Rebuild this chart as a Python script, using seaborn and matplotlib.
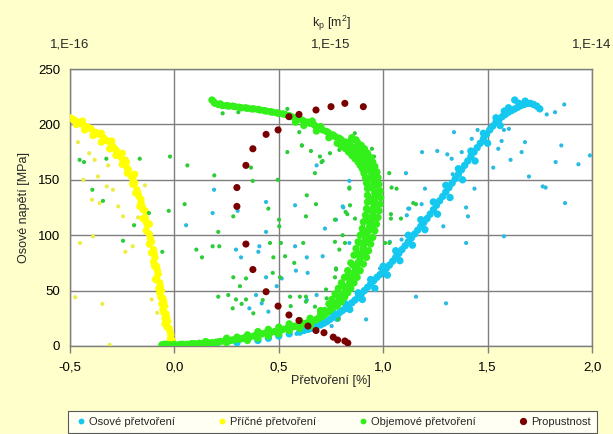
import matplotlib
matplotlib.use("Agg")
import matplotlib.pyplot as plt
from matplotlib.lines import Line2D
import seaborn as sns
import pandas as pd

# ---------------- data ----------------
# Příčné přetvoření (lateral strain) – dense band
yellow_band_x = [-0.50, -0.48, -0.46, -0.44, -0.42, -0.40, -0.38, -0.36, -0.34, -0.32, -0.30, -0.28, -0.265, -0.25,
                 -0.235, -0.22, -0.205, -0.19, -0.18, -0.17, -0.16, -0.15, -0.14, -0.13, -0.12, -0.11, -0.10, -0.093,
                 -0.085, -0.078, -0.07, -0.062, -0.055, -0.047, -0.04, -0.032, -0.025, -0.017, -0.01, -0.005,
                 -0.47, -0.43, -0.39, -0.35, -0.31, -0.28, -0.25, -0.225, -0.20, -0.185, -0.165, -0.15, -0.135, -0.12,
                 -0.11, -0.095, -0.085, -0.075, -0.065, -0.055, -0.045, -0.035, -0.02, -0.12, -0.16, -0.23, -0.07,
                 -0.09, -0.05,
                 -0.49, -0.45, -0.41, -0.37, -0.33, -0.29, -0.257, -0.228, -0.198, -0.175, -0.155, -0.135, -0.115,
                 -0.097, -0.081, -0.066, -0.051, -0.036, -0.021, -0.008, -0.06, -0.045, -0.10, -0.14, -0.19, -0.25,
                 -0.30, -0.35, -0.44]
yellow_band_y = [206, 204, 202, 200, 198, 196, 193, 191, 188, 185, 181, 177, 173, 169,
                 164, 159, 153, 147, 141, 135, 129, 123, 116, 109, 101, 94, 87, 80,
                 72, 65, 57, 50, 43, 36, 29, 22, 16, 10, 5, 1,
                 200, 195, 190, 184, 178, 172, 164, 156, 146, 138, 126, 115, 104, 92,
                 84, 72, 61, 52, 44, 33, 25, 17, 6, 110, 132, 166, 48,
                 60, 30,
                 205, 201, 197, 192, 186, 179, 171, 161, 150, 138, 126, 112, 97,
                 84, 68, 53, 40, 25, 13, 3, 38, 20, 76, 122, 155, 174,
                 185, 192, 203]
yellow_out_x = [-0.462, -0.408, -0.382, -0.436, -0.395, -0.358, -0.324, -0.294, -0.317, -0.230, -0.269, -0.246,
                -0.174, -0.235, -0.200, -0.452, -0.39, -0.475, -0.345, -0.31, -0.141, -0.109, -0.082, -0.366]
yellow_out_y = [184, 174, 168, 150, 132, 129, 144, 141, 163, 169, 126, 117,
                116, 85, 90, 93, 99, 44, 38, 1, 145, 42, 30, 153]

# Objemové přetvoření (volumetric strain) – dense band
green_band_x = [-0.06, -0.04, -0.02, 0.0, 0.02, 0.04, 0.06, 0.08, 0.10, 0.12, 0.14, 0.16, 0.18, 0.20, 0.22, 0.24,
                0.26, 0.28, 0.30, 0.32, 0.34, 0.36, 0.38, 0.40, 0.42, 0.44, 0.46, 0.48, 0.50, 0.52, 0.54, 0.56,
                0.58, 0.60, 0.62, 0.64, 0.66, 0.68, 0.70, 0.72, 0.74, 0.76, 0.78, 0.80, 0.82, 0.84, 0.86, 0.875,
                0.89, 0.905, 0.915, 0.93, 0.94, 0.95, 0.955, 0.96,
                0.96, 0.955, 0.945, 0.93, 0.91, 0.89, 0.86, 0.83, 0.80, 0.77, 0.74, 0.71, 0.68, 0.65, 0.62, 0.59,
                0.56, 0.53, 0.50, 0.47, 0.44, 0.41, 0.38, 0.35, 0.32, 0.29, 0.26, 0.23, 0.21, 0.19, 0.18,
                0.80, 0.83, 0.86, 0.89, 0.92, 0.94, 0.96, 0.975, 0.985, 0.985, 0.975, 0.96, 0.94, 0.91, 0.88, 0.85,
                0.74, 0.77, 0.80, 0.83, 0.86, 0.88, 0.90, 0.915, 0.925, 0.925, 0.915, 0.90, 0.88, 0.85, 0.82, 0.78,
                0.30, 0.40, 0.50, 0.55, 0.65, 0.70, 0.35, 0.45, 0.55, 0.65,
                0.195, 0.22, 0.25, 0.28, 0.31, 0.34, 0.37, 0.40, 0.43, 0.46, 0.49, 0.52, 0.55, 0.58, 0.61, 0.64,
                0.67, 0.70, 0.73, 0.76, 0.79, 0.82, 0.85, 0.875, 0.90, 0.92, 0.94, 0.95, 0.958, 0.96, 0.958,
                0.952, 0.945, 0.935, 0.922, 0.91, 0.898, 0.882, 0.868, 0.85, 0.83, 0.81, 0.79, 0.77, 0.75, 0.73,
                0.71, 0.69, 0.67, 0.63, 0.57, 0.51, 0.45, 0.39, 0.33, 0.27, 0.21, 0.15, 0.09, 0.03, -0.03, -0.05,
                0.815, 0.845, 0.875, 0.905, 0.93, 0.95, 0.968, 0.98, 0.988, 0.98, 0.97, 0.95, 0.925, 0.895, 0.87,
                0.755, 0.785, 0.815, 0.845, 0.87, 0.89, 0.905, 0.92, 0.925, 0.92, 0.908, 0.89, 0.865, 0.835, 0.80,
                0.25, 0.35, 0.45, 0.60, 0.70, 0.40, 0.50, 0.60, 0.25, 0.15,
                0.78, 0.80, 0.82, 0.845, 0.87, 0.89, 0.91, 0.93, 0.945, 0.958, 0.968, 0.972, 0.968, 0.958, 0.945,
                0.925, 0.90, 0.875, 0.845,
                0.72, 0.75, 0.78, 0.805, 0.83, 0.855, 0.875, 0.89, 0.905, 0.915, 0.925, 0.935, 0.937, 0.93, 0.915,
                0.897, 0.875, 0.85, 0.82, 0.79,
                0.62, 0.68, 0.74, 0.58, 0.70, 0.66]
green_band_y = [1, 1.5, 1, 1.5, 1, 1.5, 1.5, 2, 2, 2.5, 2.5, 3, 3, 3.5, 4, 4.5,
                5, 5.5, 6, 6.5, 7.5, 8, 9, 10, 11, 12, 12, 13, 14, 15, 16, 17,
                18, 19, 20, 21, 22.5, 24, 26, 28.5, 31.5, 35, 39, 44, 50, 58, 66, 73,
                80, 88, 96, 104, 112, 120, 128, 135,
                140, 147, 154, 161, 167, 172, 177, 182, 186, 189, 192, 195, 198, 201, 203, 205,
                207, 209, 210, 211, 212, 213, 214, 214.5, 215, 216, 216.5, 217, 218, 220, 222,
                40, 48, 57, 68, 80, 92, 104, 116, 128, 140, 152, 162, 170, 178, 183, 188,
                38, 47, 57, 68, 82, 94, 106, 118, 130, 142, 152, 160, 166, 172, 178, 183,
                8, 13, 17, 20, 25, 29, 5, 9, 14, 18,
                219, 218.5, 217, 216.5, 215.5, 215, 214, 213.5, 212.5, 211.5, 210.5, 209.5, 208, 206, 204, 202,
                199.5, 196.5, 193.5, 190.5, 187.5, 184, 179.5, 175, 170, 164, 158, 151, 144, 138, 131,
                124, 116, 108, 100, 92, 84, 76, 69, 62, 54, 47, 41, 37, 33, 30,
                27, 25, 23, 20.5, 17.5, 14.5, 12, 9.5, 7, 5, 3.5, 2.5, 2, 1.5, 1, 1.5,
                44, 52, 62, 74, 86, 98, 110, 122, 134, 146, 157, 166, 174, 181, 186,
                42, 52, 62, 75, 88, 100, 112, 124, 136, 147, 156, 163, 169, 175, 180,
                7, 10, 15, 23, 32, 7, 11, 16, 3, 4,
                36, 42, 48, 57, 66, 76, 86, 96, 106, 116, 126, 136, 146, 154, 162,
                169, 175, 180, 185,
                32, 38, 46, 54, 63, 73, 83, 93, 103, 113, 123, 133, 143, 151, 159,
                165, 170, 176, 180, 184,
                199, 194, 188, 202, 198, 203]
green_out_x = [-0.454, -0.433, -0.326, -0.166, -0.021, 0.062, -0.393, -0.342, 0.049, -0.122, -0.027, -0.193,
               -0.246, -0.058, 0.105, 0.132, 0.191, 0.367, 0.375, 0.495, 0.541, 0.541, 0.598, 0.611, 0.654,
               0.697, 0.71, 0.673, 0.634, 0.678, 0.63, 0.769, 0.82, 0.838, 0.864, 0.946, 0.956, 0.282, 0.45,
               0.501, 0.502, 0.306, 0.231, 0.21, 0.183, 0.215, 0.458, 0.51, 0.617, 0.574, 0.53, 0.474, 0.471,
               0.506, 0.282, 0.343, 0.314, 0.21, 0.258, 0.295, 0.343, 0.279, 0.322, 0.378, 0.423, 0.554, 0.601,
               0.63, 0.63, 0.557, 0.673, 0.726, 0.774, 0.79, 0.769, 0.729, 0.841, 0.828, 0.865, 1.037, 1.037,
               1.085, 1.157, 0.806, 0.817, 0.902, 1.009, 1.03, 0.774, 0.769, 0.785, 1.029, 1.04, 1.064, 1.144,
               0.838, 0.745, 0.705, 0.79, 0.61]
green_out_y = [168, 166, 169, 169, 171, 163, 141, 131, 128, 120, 122, 109,
               95, 85, 87, 80, 154, 161, 149, 150, 175, 214, 193, 181, 176,
               171, 167, 156, 136, 128, 117, 114, 121, 143, 192, 178, 171, 117, 124,
               114, 108, 211, 210, 103, 90, 90, 93, 93, 93, 75, 81, 80, 66,
               62, 62, 61, 54, 44.5, 46, 42, 42, 34, 38, 29.5, 41.5, 44.5, 44.5,
               44.5, 40, 36, 35.5, 51, 69, 87, 94, 43, 127, 119, 115, 119, 115,
               115, 128, 100, 93, 108, 93, 93, 70, 62, 24, 156, 143, 142, 129,
               142, 174, 166, 177, 181]

# Osové přetvoření (axial strain) – dense band
cyan_band_x = [0.2, 0.3, 0.4, 0.45, 0.5, 0.55, 0.6,
               0.62, 0.66, 0.70, 0.73, 0.76, 0.79, 0.82, 0.85, 0.88, 0.91, 0.94, 0.97, 1.00, 1.03, 1.06, 1.09,
               1.12, 1.15, 1.18, 1.21, 1.24, 1.27, 1.30, 1.33, 1.36, 1.39, 1.42, 1.45, 1.48, 1.51, 1.54, 1.57,
               1.60, 1.63, 1.66, 1.69, 1.72, 1.75, 1.63, 1.68,
               0.78, 0.84, 0.90, 0.96, 1.02, 1.08, 1.14, 1.20, 1.26, 1.32, 1.38, 1.44, 1.50, 1.56,
               0.70, 0.76, 0.82, 0.88, 0.94, 1.00, 1.06, 1.12, 1.18, 1.24, 1.30, 1.36, 1.42, 1.48, 1.54, 1.60,
               0.64, 0.68, 0.715, 0.745, 0.775, 0.805, 0.835, 0.865, 0.895, 0.925, 0.955, 0.985, 1.015, 1.045,
               1.075, 1.105, 1.135, 1.165, 1.195, 1.225, 1.255, 1.285, 1.315, 1.345, 1.375, 1.405, 1.435, 1.465,
               1.495, 1.525, 1.555, 1.585, 1.615, 1.645, 1.675, 1.705, 1.735, 1.65, 1.58]
cyan_band_y = [1.5, 3, 5, 7, 9, 11, 12.5,
               14, 16, 19, 22, 26, 30, 34, 39, 44, 50, 56, 62, 67, 73, 80, 87,
               94, 101, 108, 115, 123, 131, 139, 147, 155, 163, 171, 179, 187, 195, 202, 207,
               211, 214, 217, 219, 218, 214, 222, 221,
               25, 33, 42, 52, 64, 77, 91, 105, 119, 134, 150, 167, 183, 199,
               22, 30, 38, 48, 60, 72, 86, 100, 114, 130, 145, 160, 176, 192, 206, 215,
               15, 17.5, 20.5, 24, 28, 32, 36.5, 41.5, 47, 53, 59, 64.5, 70, 76.5,
               83.5, 90.5, 97.5, 104.5, 111.5, 119, 127, 135, 143, 151, 159, 167, 175, 183,
               191, 198.5, 204.5, 209, 212.5, 215.5, 218, 219, 216.5, 219, 212]
cyan_out_x = [1.339, 1.452, 1.424, 1.578, 1.602, 1.567, 1.551, 1.527, 1.61, 1.679, 1.663, 1.698, 1.764, 1.778,
              1.826, 1.853, 1.935, 1.99, 1.871, 1.783, 1.823, 1.867, 1.186, 1.259, 1.307, 1.328, 1.376, 1.333,
              1.437, 1.109, 1.20, 1.184, 1.12, 1.113, 1.397, 1.406, 1.288, 1.578, 1.397, 1.088, 1.032, 0.809,
              0.774, 1.157, 1.301, 0.918, 0.753, 0.838, 0.985, 0.183, 0.303, 0.439, 0.578, 0.721, 0.439, 0.407,
              0.402, 0.295, 0.319, 0.578, 0.634, 0.71, 0.514, 0.582, 0.638, 0.439, 0.49, 0.391, 0.418, 0.359,
              0.45, 0.634, 0.681, 0.585, 0.056, 0.681, 0.838, 0.19, 1.125, 0.806]
cyan_out_y = [193, 195, 187, 195, 196, 185, 178, 161, 168, 184, 175, 153, 144, 143,
              166, 181, 164, 172, 129, 209, 211, 218, 175, 176, 173, 169, 175, 155,
              142, 156, 142, 128, 124, 118, 125, 117, 108, 99, 93, 96, 94, 125,
              114, 44.5, 38.5, 24, 18, 93, 70, 120, 122, 130, 127, 106, 103, 90,
              85, 87, 80, 90, 80, 81, 61, 68, 66, 62, 54, 46, 38.5, 34,
              31, 41.5, 46, 11, 109, 163, 149, 141, 124, 126]

# Propustnost (permeability, top axis) vs. stress
perm_k = [1.13e-15, 1.00e-15, 1.33e-15, 8.76e-16, 7.54e-16, 6.90e-16, 6.27e-16, 5.64e-16, 5.02e-16,
          4.72e-16, 4.36e-16, 4.36e-16, 4.72e-16, 5.02e-16, 5.64e-16, 6.27e-16, 6.90e-16, 7.54e-16,
          8.16e-16, 8.76e-16, 9.40e-16, 1.02e-15, 1.06e-15, 1.13e-15, 1.16e-15]
perm_s = [219, 216, 216, 213, 209, 207, 195, 191, 178,
          163, 143, 126, 92, 69, 49, 36, 28, 23,
          18, 14, 12, 8, 5.4, 4.5, 2.7]

labels = ["Osové přetvoření", "Příčné přetvoření", "Objemové přetvoření", "Propustnost"]
x_ticks = [-0.5, 0.0, 0.5, 1.0, 1.5, 2.0]
x_ticklabels = ["-0,5", "0,0", "0,5", "1,0", "1,5", "2,0"]
y_ticks = [0, 50, 100, 150, 200, 250]
k_ticks = [1e-16, 1e-15, 1e-14]
k_ticklabels = ["1,E-16", "1,E-15", "1,E-14"]

# ---------------- style ----------------
sns.set_style("white")
plt.rcParams["font.family"] = ["Liberation Sans", "DejaVu Sans"]
plt.rcParams["mathtext.fontset"] = "custom"
plt.rcParams["mathtext.rm"] = "Liberation Sans"
plt.rcParams["mathtext.it"] = "Liberation Sans"

C_CYAN, C_CYAN_O = "#14C8F0", "#2ABBE0"
C_YEL, C_YEL_O = "#FFFF00", "#EDED45"
C_GRN, C_GRN_O = "#33F01A", "#2DCC3A"
C_RED = "#7A0000"
GRIDC = "#7F7F7F"

fig = plt.figure(figsize=(6.13, 4.34), dpi=100, facecolor="#FFFFCC")
ax = fig.add_axes([70 / 613, 1 - 346 / 434, 522 / 613, 277 / 434])
ax.set_facecolor("white")

BAND_S, OUT_S = 28, 9


def sc(axis, xs, ys, color, size):
    df = pd.DataFrame({"x": xs, "y": ys})
    sns.scatterplot(data=df, x="x", y="y", ax=axis, color=color, s=size,
                    linewidth=0, edgecolor="none", legend=False, zorder=3)


sc(ax, cyan_out_x, cyan_out_y, C_CYAN_O, OUT_S)
sc(ax, cyan_band_x, cyan_band_y, C_CYAN, BAND_S)
sc(ax, yellow_out_x, yellow_out_y, C_YEL_O, OUT_S)
sc(ax, yellow_band_x, yellow_band_y, C_YEL, BAND_S)
sc(ax, green_out_x, green_out_y, C_GRN_O, OUT_S)
sc(ax, green_band_x, green_band_y, C_GRN, BAND_S)

ax.set_xlim(-0.5, 2.0)
ax.set_ylim(0, 250)
ax.set_xticks(x_ticks)
ax.set_xticklabels(x_ticklabels)
ax.set_yticks(y_ticks)
ax.grid(True, color=GRIDC, linewidth=1.0)
ax.set_axisbelow(True)
for sp in ax.spines.values():
    sp.set_color(GRIDC)
    sp.set_linewidth(1.0)
ax.tick_params(axis="both", direction="out", length=5, width=1, color=GRIDC,
               labelsize=9.5, labelcolor="black")
ax.tick_params(axis="x", pad=6)
ax.tick_params(axis="y", pad=2)
ax.set_xlabel("Přetvoření [%]", fontsize=9, labelpad=1)
ax.set_ylabel("Osové napětí [MPa]", fontsize=9, labelpad=6)

# top (permeability) axis
ax2 = ax.twiny()
ax2.set_xscale("log")
df_p = pd.DataFrame({"k": perm_k, "s": perm_s})
sns.scatterplot(data=df_p, x="k", y="s", ax=ax2, color=C_RED, s=26, linewidth=0,
                edgecolor="none", legend=False, zorder=4)
ax2.set_xlim(1e-16, 1e-14)
ax2.set_xticks(k_ticks)
ax2.set_xticklabels(k_ticklabels)
ax2.minorticks_off()
ax2.tick_params(axis="x", length=0, pad=13, labelsize=9.5)
ax2.set_xlabel("k$_{\\rm p}$ [m$^{\\rm 2}$]", fontsize=9, labelpad=9)
for sp in ax2.spines.values():
    sp.set_visible(False)
ax2.set_ylim(0, 250)

# legend
handles = [
    Line2D([], [], linestyle="none", marker="o", markersize=3.2, color=C_CYAN),
    Line2D([], [], linestyle="none", marker="o", markersize=3.2, color=C_YEL),
    Line2D([], [], linestyle="none", marker="o", markersize=3.2, color=C_GRN),
    Line2D([], [], linestyle="none", marker="o", markersize=4.2, color=C_RED),
]
leg = fig.legend(handles, labels, ncol=4, loc="upper left",
                 bbox_to_anchor=(68 / 613, 0, 529 / 613, 1 - 411 / 434), mode="expand",
                 frameon=True, fancybox=False, edgecolor="#303030", facecolor="white",
                 fontsize=8, handletextpad=0.1, borderaxespad=0, borderpad=0.55,
                 handlelength=1.2, columnspacing=1.0)
leg.get_frame().set_linewidth(0.8)

fig.savefig("out.png", dpi=100, facecolor=fig.get_facecolor())
